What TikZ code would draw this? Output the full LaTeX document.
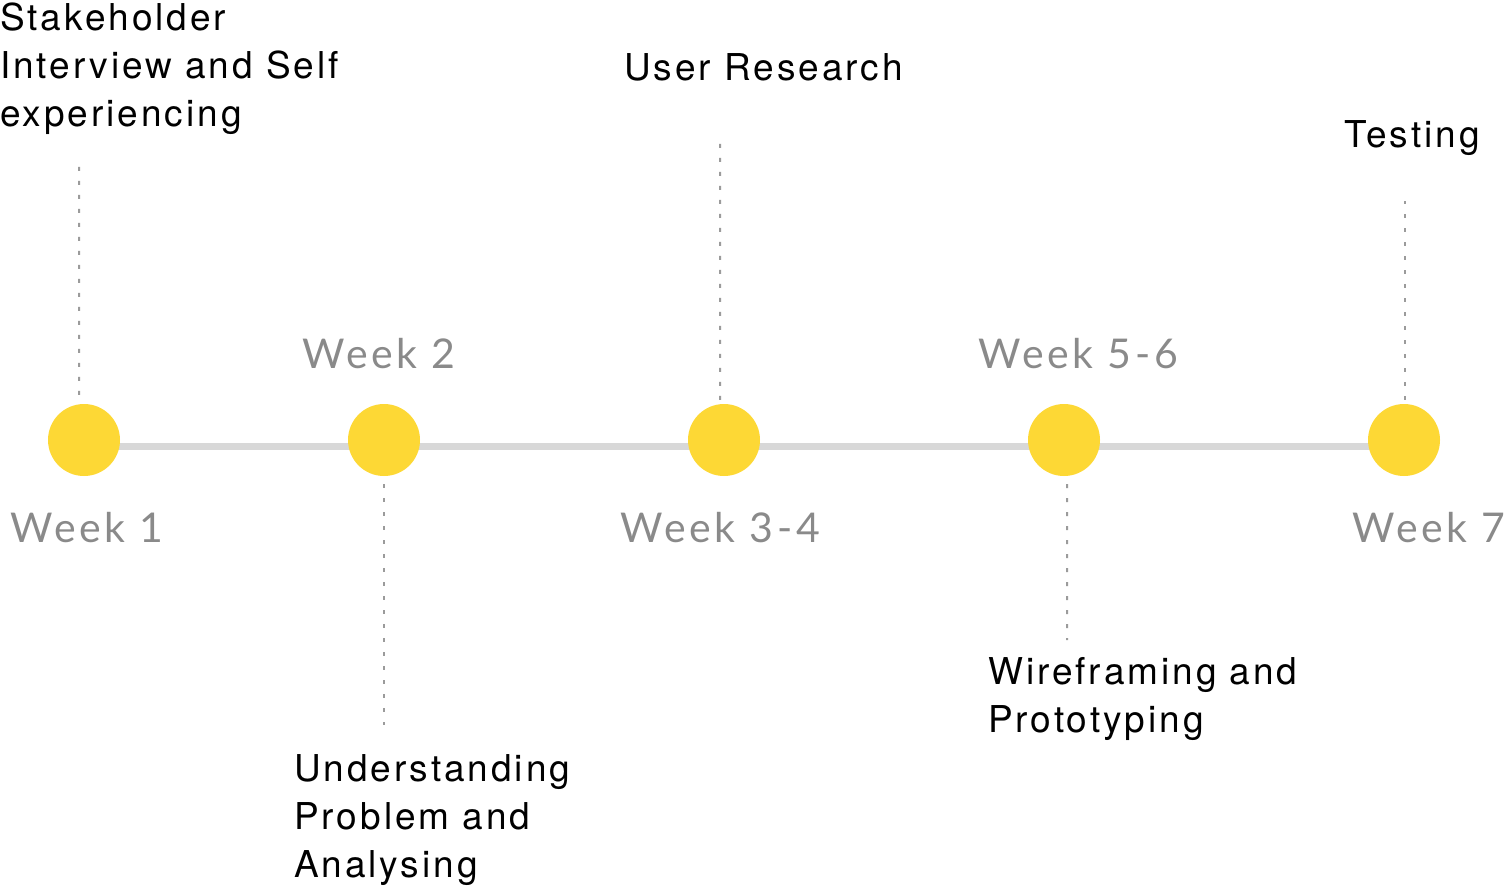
\documentclass[tikz,border=0pt]{standalone}
\usepackage{fontspec}
\setmainfont{TeX Gyre Heros}[LetterSpace=8]
\newfontfamily\weekfont{Lato}[LetterSpace=9]
\usetikzlibrary{backgrounds}
\definecolor{dotyellow}{HTML}{FDD835}
\definecolor{trackgray}{HTML}{D8D8D8}
\definecolor{weekgray}{HTML}{8A8A8A}
\definecolor{guidegray}{HTML}{9B9B9B}

\begin{document}
\begin{tikzpicture}[x=1bp,y=-1bp,
  dot/.style={circle,fill=dotyellow,minimum size=72bp,inner sep=0},
  week/.style={anchor=base west,inner sep=0,text=weekgray,font=\weekfont\fontsize{41bp}{48bp}\selectfont},
  task/.style={anchor=base west,inner sep=0,align=left,font=\fontsize{37bp}{48bp}\selectfont},
  guide/.style={draw=guidegray,line width=2bp,dash pattern=on 4bp off 10bp},
  track/.style={draw=trackgray,line width=7bp}]

\useasboundingbox (0,0) rectangle (1504,890);

% milestones
\node (W1) at (84,440)[dot] {};
\node (W2) at (384,440)[dot] {};
\node (W3) at (724,440)[dot] {};
\node (W4) at (1064,440)[dot] {};
\node (W5) at (1404,440)[dot] {};
\begin{scope}[on background layer]
\draw [track] ([yshift=-6bp]W1.center) -- ([yshift=-6bp]W5.center);
\end{scope}

% week labels
\node (L1) at (10,542)[week] {Week 1};
\node (L2) at (302,368)[week] {Week 2};
\node (L3) at (620,542)[week] {Week 3-4};
\node (L4) at (978,368)[week] {Week 5-6};
\node (L5) at (1352,542)[week] {Week 7};

% tasks (base = last line)
\node (T1) at (0,126)[task] {Stakeholder\\Interview and Self\\experiencing};
\node (T2) at (294,877)[task] {Understanding\\Problem and\\Analysing};
\node (T3) at (624,80)[task] {User Research};
\node (T4) at (988,732)[task] {Wireframing and\\Prototyping};
\node (T5) at (1344,147)[task] {Testing};

\coordinate (E1) at (79,165);
\coordinate (E2) at (384,725);
\coordinate (E3) at (720,141);
\coordinate (E4) at (1067,640);
\coordinate (E5) at (1405,201);
\draw [guide] ([xshift=-5bp,yshift=9bp]W1.north) -- (E1);
\draw [guide] ([yshift=-8bp]W2.south) -- (E2);
\draw [guide] ([xshift=-4bp,yshift=4bp]W3.north) -- (E3);
\draw [guide] ([xshift=3bp,yshift=-8bp]W4.south) -- (E4);
\draw [guide] ([xshift=1bp,yshift=4bp]W5.north) -- (E5);
\end{tikzpicture}
\end{document}
